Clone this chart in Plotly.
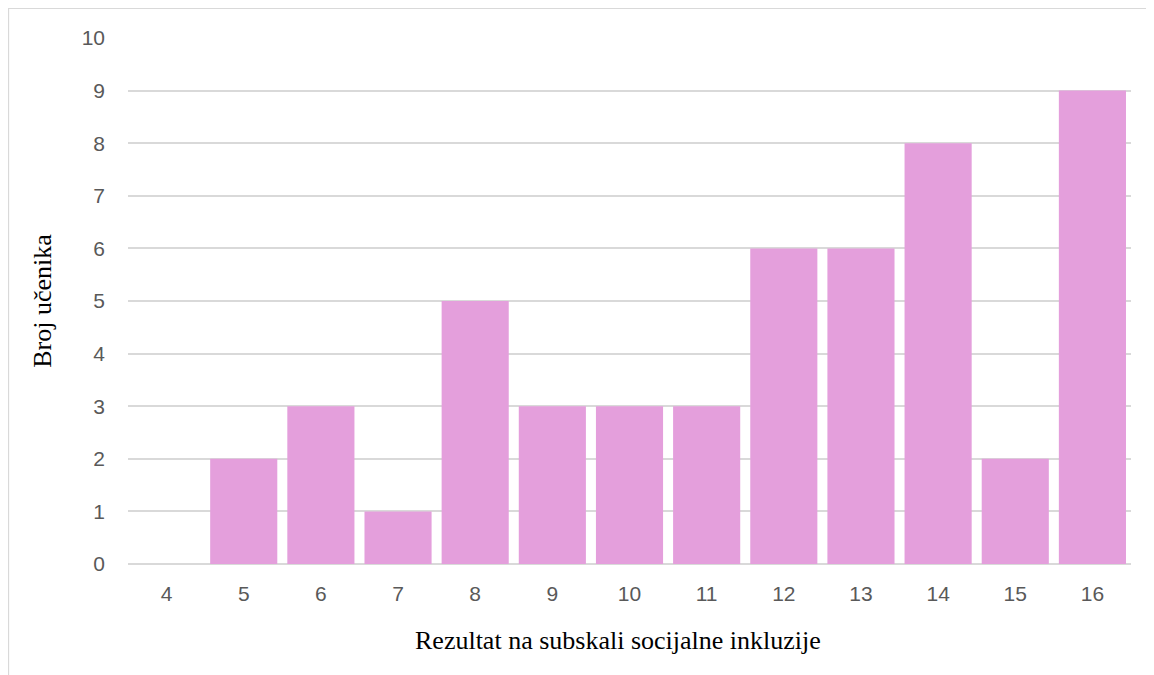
import plotly.graph_objects as go

scores = ["4", "5", "6", "7", "8", "9", "10", "11", "12", "13", "14", "15", "16"]
counts = [0, 2, 3, 1, 5, 3, 3, 3, 6, 6, 8, 2, 9]
y_ticks = list(range(0, 11))

bar_color = "#e49fdc"
grid_color = "#d9d9d9"

fig = go.Figure()
fig.add_trace(go.Bar(
    x=scores,
    y=counts,
    marker=dict(color=bar_color, line=dict(width=0)),
    showlegend=False,
))

# light frame around the chart area (cut off at right and bottom)
fig.add_shape(type="line", xref="paper", yref="paper",
              x0=-0.121, y0=1.057, x1=1.04, y1=1.057,
              line=dict(color=grid_color, width=2))
fig.add_shape(type="line", xref="paper", yref="paper",
              x0=-0.1195, y0=1.058, x1=-0.1195, y1=-0.25,
              line=dict(color=grid_color, width=2))

# x axis title, slightly left of the plot centre as in the original
fig.add_annotation(
    text="Rezultat na subskali socijalne inkluzije",
    xref="paper", yref="paper", x=0.489, y=-0.145,
    xanchor="center", yanchor="middle", showarrow=False,
    font=dict(family="Liberation Serif", size=26, color="black"),
)

fig.update_layout(
    width=1146,
    height=667,
    margin=dict(l=120, r=23, t=30, b=111),
    paper_bgcolor="white",
    plot_bgcolor="white",
    bargap=0.13,
    xaxis=dict(
        type="category",
        tickfont=dict(family="Liberation Sans", size=21, color="#595959"),
        showgrid=False,
        showline=False,
        ticks="",
        ticklabelstandoff=15,
    ),
    yaxis=dict(
        title=dict(text="Broj učenika",
                   font=dict(family="Liberation Serif", size=26, color="black"),
                   standoff=22),
        range=[0, 10],
        tickvals=y_ticks,
        tickfont=dict(family="Liberation Sans", size=21, color="#595959"),
        showgrid=True,
        gridcolor=grid_color,
        gridwidth=1.5,
        zeroline=True,
        zerolinecolor=grid_color,
        zerolinewidth=1.5,
        ticks="",
        ticklabelstandoff=22,
    ),
)

fig.write_html("out.html")
